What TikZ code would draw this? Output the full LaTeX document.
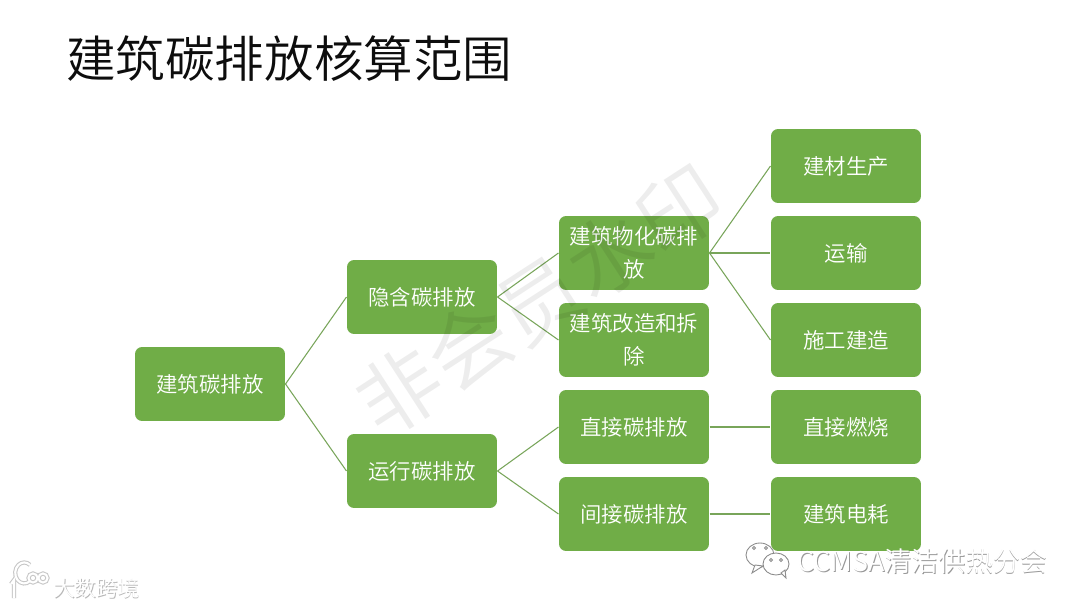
\documentclass[tikz,border=0pt]{standalone}
\usepackage{fontspec}
\setmainfont{Noto Sans CJK SC}[UprightFont=* DemiLight]
\definecolor{BoxGreen}{RGB}{112,173,71}
\definecolor{LineGreen}{RGB}{120,165,90}
\usetikzlibrary{positioning}
\tikzset{
  treebox/.style={fill=BoxGreen, rounded corners=0.14cm, minimum width=3cm, minimum height=1.48cm,
    inner sep=0pt, outer sep=0.3pt, align=center, text=white, font=\fontsize{12.2}{18.7}\selectfont},
  link/.style={LineGreen, line width=0.6pt},
  markshadow/.style={text=black!40, font=\fontsize{15.4}{18}\selectfont},
  marktext/.style={text=white, font=\fontsize{15.4}{18}\selectfont},
  logoshadow/.style={black!22, line width=2.4pt},
  logoline/.style={white, line width=1.2pt}
}
\begin{document}
\begin{tikzpicture}[x=0.02cm, y=-0.02cm]
  \useasboundingbox (0,0) rectangle (1080,608);
  \fill[white] (0,0) rectangle (1080,608);
  \node[anchor=west, inner sep=0pt, font=\fontsize{28.2}{34}\selectfont, text=black!95] (title) at (66,59) {建筑碳排放核算范围};
  % tree
  \node[treebox] (total) at (210,384) {建筑碳排放};
  \node[treebox] (embodied) at (422,297) {隐含碳排放};
  \node[treebox] (operation) at (422,471) {运行碳排放};
  \node[treebox] (materialized) at (634,253) {建筑物化碳排\\放};
  \node[treebox] (renovation) at (634,340) {建筑改造和拆\\除};
  \node[treebox] (direct) at (634,427) {直接碳排放};
  \node[treebox] (indirect) at (634,514) {间接碳排放};
  \node[treebox] (material) at (846,166) {建材生产};
  \node[treebox] (transport) at (846,253) {运输};
  \node[treebox] (construct) at (846,340) {施工建造};
  \node[treebox] (burning) at (846,427) {直接燃烧};
  \node[treebox] (power) at (846,514) {建筑电耗};
  \draw[link] (total.east) -- (embodied.west);
  \draw[link] (total.east) -- (operation.west);
  \draw[link] (embodied.east) -- (materialized.west);
  \draw[link] (embodied.east) -- (renovation.west);
  \draw[link] (operation.east) -- (direct.west);
  \draw[link] (operation.east) -- (indirect.west);
  \draw[link] (materialized.east) -- (material.west);
  \draw[link] (materialized.east) -- (transport.west);
  \draw[link] (materialized.east) -- (construct.west);
  \draw[link] (direct.east) -- (burning.west);
  \draw[link] (indirect.east) -- (power.west);
  % watermarks
  \node[rotate=33, text=black, text opacity=0.07, font=\fontsize{47.5}{52}\selectfont] (stamp) at (539,300) {非会员水印};
  \begin{scope}[line width=0.5pt, draw=black!45, fill=white]
    \filldraw (760,555) ellipse (14 and 12);
    \filldraw (755,565) -- (752,573) -- (763,566) -- cycle;
    \filldraw (776,564) ellipse (13 and 11);
    \filldraw (781,573) -- (786,578) -- (785,570) -- cycle;
    \draw (754,548) circle (1.5) (766,548) circle (1.5) (771,560) circle (1.5) (781,560) circle (1.5);
  \end{scope}
  \node[markshadow, anchor=west, inner sep=0pt] (wechatshadow) at (797.8,561.8) {CCMSA清洁供热分会};
  \node[marktext, anchor=west, inner sep=0pt] (wechat) at (797,561) {CCMSA清洁供热分会};
  \draw[logoshadow] (11,584) -- (14,580) -- (14,598);
  \draw[logoshadow] (30,581) arc (50:310:9 and 10.5);
  \draw[logoshadow] (33,578) circle (4.5) (43,578) circle (4.5);
  \draw[logoline] (11,584) -- (14,580) -- (14,598);
  \draw[logoline] (30,581) arc (50:310:9 and 10.5);
  \draw[logoline] (33,578) circle (4.5) (43,578) circle (4.5);
  \node[anchor=west, inner sep=0pt, text=black!28, font=\fontsize{12.3}{15}\selectfont] (brandshadow) at (53.8,588.8) {大数跨境};
  \node[anchor=west, inner sep=0pt, text=white, font=\fontsize{12.3}{15}\selectfont] (brand) at (53,588) {大数跨境};
\end{tikzpicture}
\end{document}
